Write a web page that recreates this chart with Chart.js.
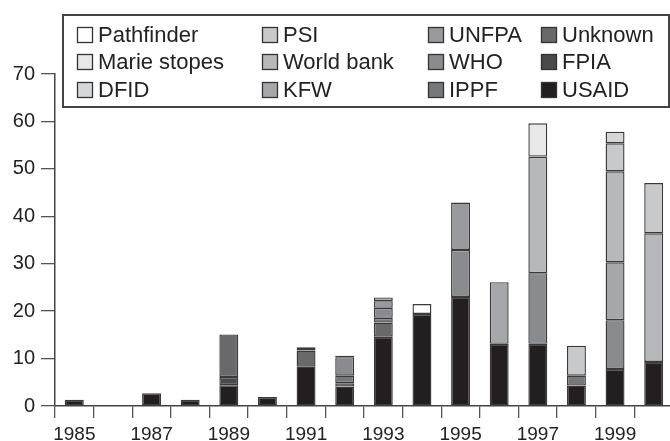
<!DOCTYPE html>
<html>
<head>
<meta charset="utf-8">
<script src="https://cdn.jsdelivr.net/npm/chart.js@4"></script>
<style>
html,body{margin:0;padding:0;background:#fff;overflow:hidden;}
#wrap{width:676px;height:441px;}
</style>
</head>
<body>
<div id="wrap"><canvas id="c" width="676" height="441"></canvas></div>
<script>
const years = ['1985','1986','1987','1988','1989','1990','1991','1992','1993','1994','1995','1996','1997','1998','1999','2000'];
const yTicks = [0,10,20,30,40,50,60,70];

// stacked from bottom to top
const USAID       = [1.3, null, 2.7, 1.3, 4.4, 1.9, 8.3, 4.1, 14.6, 19.4, 23.0, 13.1, 13.1, 4.3, 7.8, 9.3];
const FPIA        = [null,null,null,null, 1.7, null,null,null,null,null,null,null,null,null,null,null];
const Unknown     = [null,null,null,null, 9.0, null, 3.4, 0.7, 3.0, null,null,null,null,null,null,null];
const IPPF        = [null,null,null,null,null,null, 0.3, 1.6, 1.0, null,null,null,null, 2.1, null,null];
const WHO         = [null,null,null,null,null,null, 0.4, 3.9, 2.1, null, 9.9, null, 14.9, null, 10.3, null];
const UNFPA       = [null,null,null,null,null,null,null, 0.3, 1.4, null, 10.0, null,null,null,null,null];
const KFW         = [null,null,null,null,null,null,null,null, 0.8, null,null, 13.0, null,null, 12.2, null];
const WorldBank   = [null,null,null,null,null,null,null,null,null,null,null,null, 24.6, null, 19.2, 27.1];
const PSI         = [null,null,null,null,null,null,null,null,null,null,null,null,null, 6.3, 5.9, 10.6];
const DFID        = [null,null,null,null,null,null,null,null,null,null,null,null,null,null, 2.4, null];
const MarieStopes = [null,null,null,null,null,null,null,null,null,null,null,null, 7.0, null,null,null];
const Pathfinder  = [null,null,null,null,null,null,null,null,null, 2.1, null,null,null,null,null,null];

const series = [
  ['USAID', USAID, '#231f20'],
  ['FPIA', FPIA, '#4a4a4c'],
  ['Unknown', Unknown, '#69696b'],
  ['IPPF', IPPF, '#77787b'],
  ['WHO', WHO, '#8a8b8e'],
  ['UNFPA', UNFPA, '#999a9d'],
  ['KFW', KFW, '#a6a7aa'],
  ['World bank', WorldBank, '#b7b8bb'],
  ['PSI', PSI, '#c8c9cb'],
  ['DFID', DFID, '#d6d7d9'],
  ['Marie stopes', MarieStopes, '#e8e8e9'],
  ['Pathfinder', Pathfinder, '#ffffff']
];
const legendOrder = [
  ['Pathfinder','Marie stopes','DFID'],
  ['PSI','World bank','KFW'],
  ['UNFPA','WHO','IPPF'],
  ['Unknown','FPIA','USAID']
];

const FONT = '"Liberation Sans", Arial, sans-serif';

const boxLegend = {
  id: 'boxLegend',
  afterDraw(chart) {
    const ctx = chart.ctx;
    ctx.save();
    ctx.lineWidth = 2;
    ctx.strokeStyle = '#444';
    ctx.fillStyle = '#fff';
    ctx.fillRect(63, 15, 606, 92);
    ctx.strokeRect(63, 15, 606, 92);
    const colSq = [77, 262, 428, 541];
    const rowY = [35, 62, 90];
    ctx.font = '22px ' + FONT;
    ctx.textBaseline = 'middle';
    legendOrder.forEach((col, ci) => {
      col.forEach((name, ri) => {
        const ds = chart.data.datasets.find(d => d.label === name);
        const x = colSq[ci], y = rowY[ri];
        ctx.fillStyle = ds.backgroundColor;
        ctx.fillRect(x, y - 8, 16, 16);
        ctx.lineWidth = 1.3;
        ctx.strokeStyle = '#333';
        ctx.strokeRect(x + 0.5, y - 7.5, 15, 15);
        ctx.fillStyle = '#222';
        ctx.fillText(name, x + 21, y + 1);
      });
    });
    ctx.restore();
  }
};

new Chart(document.getElementById('c'), {
  type: 'bar',
  data: {
    labels: years,
    datasets: series.map(s => ({
      label: s[0], data: s[1], backgroundColor: s[2],
      borderColor: '#3a3a3a', borderWidth: 1.4, borderSkipped: false,
      categoryPercentage: 1, barPercentage: 0.49
    }))
  },
  options: {
    responsive: false,
    animation: false,
    events: [],
    layout: { padding: { top: 74, right: 3, left: 0, bottom: 0 } },
    plugins: { legend: { display: false }, tooltip: { enabled: false } },
    scales: {
      x: {
        stacked: true,
        offset: true,
        afterFit(s) { s.height = 35; },
        grid: { offset: true, drawOnChartArea: false, drawTicks: true, tickLength: 12, color: '#555', lineWidth: 1.3 },
        border: { display: true, color: '#444', width: 1.5 },
        ticks: {
          autoSkip: false, maxRotation: 0, padding: 5,
          color: '#222', font: { family: FONT, size: 19 },
          callback(v, i) { return i % 2 === 0 ? years[i] : ''; }
        }
      },
      y: {
        stacked: true,
        min: 0, max: 70,
        afterFit(s) { s.width = 55; },
        afterBuildTicks(s) { s.ticks = yTicks.map(v => ({ value: v })); },
        grid: { drawOnChartArea: false, drawTicks: true, tickLength: 14, color: '#555', lineWidth: 1.3 },
        border: { display: true, color: '#444', width: 1.5 },
        ticks: { padding: 6, color: '#222', font: { family: FONT, size: 20 } }
      }
    }
  },
  plugins: [boxLegend]
});
</script>
</body>
</html>
